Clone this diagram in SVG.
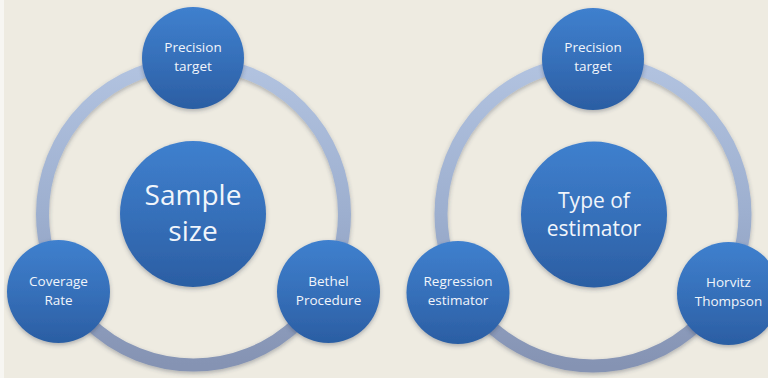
<svg xmlns="http://www.w3.org/2000/svg" width="768" height="378" viewBox="0 0 768 378">
  <defs>
    <linearGradient id="ballGrad" x1="0" y1="0" x2="0" y2="1">
      <stop offset="0" stop-color="#3F80CE"/>
      <stop offset="0.5" stop-color="#3670BA"/>
      <stop offset="1" stop-color="#2B5EA3"/>
    </linearGradient>
    <linearGradient id="ringGrad" x1="0" y1="0" x2="0" y2="1">
      <stop offset="0" stop-color="#B2C3E0"/>
      <stop offset="0.5" stop-color="#9DAFCF"/>
      <stop offset="1" stop-color="#8593B3"/>
    </linearGradient>
    <filter id="shadow" x="-20%" y="-20%" width="140%" height="140%">
      <feDropShadow dx="0" dy="2" stdDeviation="2" flood-color="#303a50" flood-opacity="0.35"/>
    </filter>
  </defs>
  <style>
    .ball { fill: url(#ballGrad); filter: url(#shadow); }
    .ring { fill: none; stroke: url(#ringGrad); stroke-width: 13; filter: url(#shadow); }
    text { font-family: "Open Sans", "Noto Sans", "Liberation Sans", sans-serif; fill: #F1F5FB; text-anchor: middle; }
    .small { font-size: 13.5px; }
    .big { font-size: 28px; }
    .mid { font-size: 21px; }
  </style>
  <rect x="0" y="0" width="768" height="378" fill="#EEEBE1"/>
  <rect x="0" y="0" width="4" height="378" fill="#F7F6F2"/>

  <g id="connectors">
    <circle class="ring" cx="193.5" cy="214" r="151"/>
    <circle class="ring" cx="593" cy="214" r="152"/>
  </g>

  <g id="sample-size">
    <circle class="ball" cx="193" cy="214" r="73"/>
    <text class="big" x="193" y="205">Sample</text>
    <text class="big" x="193" y="241">size</text>
  </g>
  <g id="precision-target-left">
    <circle class="ball" cx="193" cy="58" r="51"/>
    <text class="small" x="193" y="52">Precision</text>
    <text class="small" x="193" y="71">target</text>
  </g>
  <g id="coverage-rate">
    <circle class="ball" cx="58.5" cy="291.5" r="51.5"/>
    <text class="small" x="58.5" y="286">Coverage</text>
    <text class="small" x="58.5" y="305">Rate</text>
  </g>
  <g id="bethel-procedure">
    <circle class="ball" cx="328.5" cy="291.5" r="51.5"/>
    <text class="small" x="328.5" y="286">Bethel</text>
    <text class="small" x="328.5" y="305">Procedure</text>
  </g>

  <g id="type-of-estimator">
    <circle class="ball" cx="594" cy="214.5" r="73"/>
    <text class="mid" x="594" y="208">Type of</text>
    <text class="mid" x="594" y="236">estimator</text>
  </g>
  <g id="precision-target-right">
    <circle class="ball" cx="593" cy="59" r="51"/>
    <text class="small" x="593" y="52">Precision</text>
    <text class="small" x="593" y="71">target</text>
  </g>
  <g id="regression-estimator">
    <circle class="ball" cx="458" cy="292.5" r="51.5"/>
    <text class="small" x="458" y="286">Regression</text>
    <text class="small" x="458" y="305">estimator</text>
  </g>
  <g id="horvitz-thompson">
    <circle class="ball" cx="728.5" cy="293.5" r="51.5"/>
    <text class="small" x="728.5" y="287">Horvitz</text>
    <text class="small" x="728.5" y="306">Thompson</text>
  </g>
</svg>
